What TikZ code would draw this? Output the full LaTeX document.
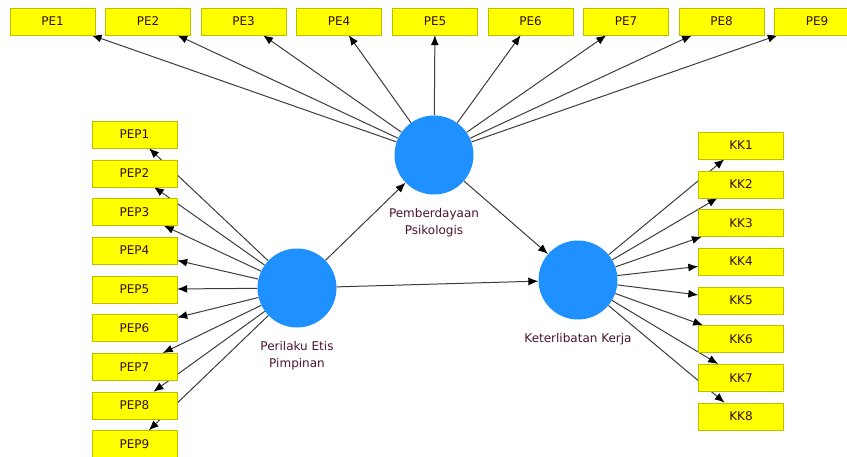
\documentclass[tikz,border=0pt]{standalone}
\usepackage{fontspec}
\setmainfont{DejaVu Sans}
\usetikzlibrary{arrows.meta,positioning,backgrounds}
\definecolor{lvblue}{RGB}{30,144,255}
\definecolor{mvyellow}{RGB}{255,255,0}
\definecolor{mvborder}{RGB}{190,190,0}
\definecolor{lbltext}{RGB}{75,20,45}
\definecolor{boxtext}{RGB}{55,15,10}
\definecolor{linkgray}{RGB}{60,60,60}

\begin{document}
\begin{tikzpicture}[x=1pt, y=-1pt, >={Latex[length=10pt,width=8pt,color=black]}]
        \tikzstyle{latent}=[fill=lvblue,shape=circle,minimum size=79pt,inner sep=0pt]
        \tikzstyle{indicator}=[draw=mvborder,fill=mvyellow,shape=rectangle,minimum width=85pt,minimum height=27pt,inner sep=0pt,text=boxtext,font=\fontsize{12}{13}\selectfont]
        \tikzstyle{caption}=[text=lbltext,align=center,inner sep=0pt,font=\fontsize{12}{17}\selectfont]
        \tikzstyle{link}=[->,draw=linkgray,line width=1pt]

        \useasboundingbox (0,0) rectangle (847,456);

        % latent variables
        \node[latent](pe) at (434,155){};
        \node[latent](pep) at (297,288){};
        \node[latent](kk) at (578,280){};
        \node[caption,below=13pt of pe](pelbl){Pemberdayaan\\Psikologis};
        \node[caption,below=13pt of pep](peplbl){Perilaku Etis\\Pimpinan};
        \node[caption,below=13pt of kk](kklbl){Keterlibatan Kerja};

        % indicators
        \node[indicator](PE1) at (52.5,21.5){PE1};
        \node[indicator](PE2) at (148,21.5){PE2};
        \node[indicator](PE3) at (243.5,21.5){PE3};
        \node[indicator](PE4) at (339,21.5){PE4};
        \node[indicator](PE5) at (435,21.5){PE5};
        \node[indicator](PE6) at (530.5,21.5){PE6};
        \node[indicator](PE7) at (626,21.5){PE7};
        \node[indicator](PE8) at (721.5,21.5){PE8};
        \node[indicator](PE9) at (817,21.5){PE9};

        \node[indicator](PEP1) at (134.5,134.5){PEP1};
        \node[indicator](PEP2) at (134.5,173.2){PEP2};
        \node[indicator](PEP3) at (134.5,211.9){PEP3};
        \node[indicator](PEP4) at (134.5,250.6){PEP4};
        \node[indicator](PEP5) at (134.5,289.3){PEP5};
        \node[indicator](PEP6) at (134.5,328){PEP6};
        \node[indicator](PEP7) at (134.5,366.7){PEP7};
        \node[indicator](PEP8) at (134.5,405.4){PEP8};
        \node[indicator](PEP9) at (134.5,444.1){PEP9};

        \node[indicator](KK1) at (741,145.5){KK1};
        \node[indicator](KK2) at (741,184.2){KK2};
        \node[indicator](KK3) at (741,222.9){KK3};
        \node[indicator](KK4) at (741,261.6){KK4};
        \node[indicator](KK5) at (741,300.3){KK5};
        \node[indicator](KK6) at (741,339){KK6};
        \node[indicator](KK7) at (741,377.7){KK7};
        \node[indicator](KK8) at (741,416.4){KK8};

        \begin{scope}[on background layer]
        % structural paths
        \draw[link] (pep) -- (pe);
        \draw[link] (pe) -- (kk);
        \draw[link] (pep) -- (kk);

        % loadings
        \draw[link] (pe) -- (PE1);
        \draw[link] (pe) -- (PE2);
        \draw[link] (pe) -- (PE3);
        \draw[link] (pe) -- (PE4);
        \draw[link] (pe) -- (PE5);
        \draw[link] (pe) -- (PE6);
        \draw[link] (pe) -- (PE7);
        \draw[link] (pe) -- (PE8);
        \draw[link] (pe) -- (PE9);

        \draw[link] (pep) -- (PEP1);
        \draw[link] (pep) -- (PEP2);
        \draw[link] (pep) -- (PEP3);
        \draw[link] (pep) -- (PEP4);
        \draw[link] (pep) -- (PEP5);
        \draw[link] (pep) -- (PEP6);
        \draw[link] (pep) -- (PEP7);
        \draw[link] (pep) -- (PEP8);
        \draw[link] (pep) -- (PEP9);

        \draw[link] (kk) -- (KK1);
        \draw[link] (kk) -- (KK2);
        \draw[link] (kk) -- (KK3);
        \draw[link] (kk) -- (KK4);
        \draw[link] (kk) -- (KK5);
        \draw[link] (kk) -- (KK6);
        \draw[link] (kk) -- (KK7);
        \draw[link] (kk) -- (KK8);
        \end{scope}

\end{tikzpicture}
\end{document}
